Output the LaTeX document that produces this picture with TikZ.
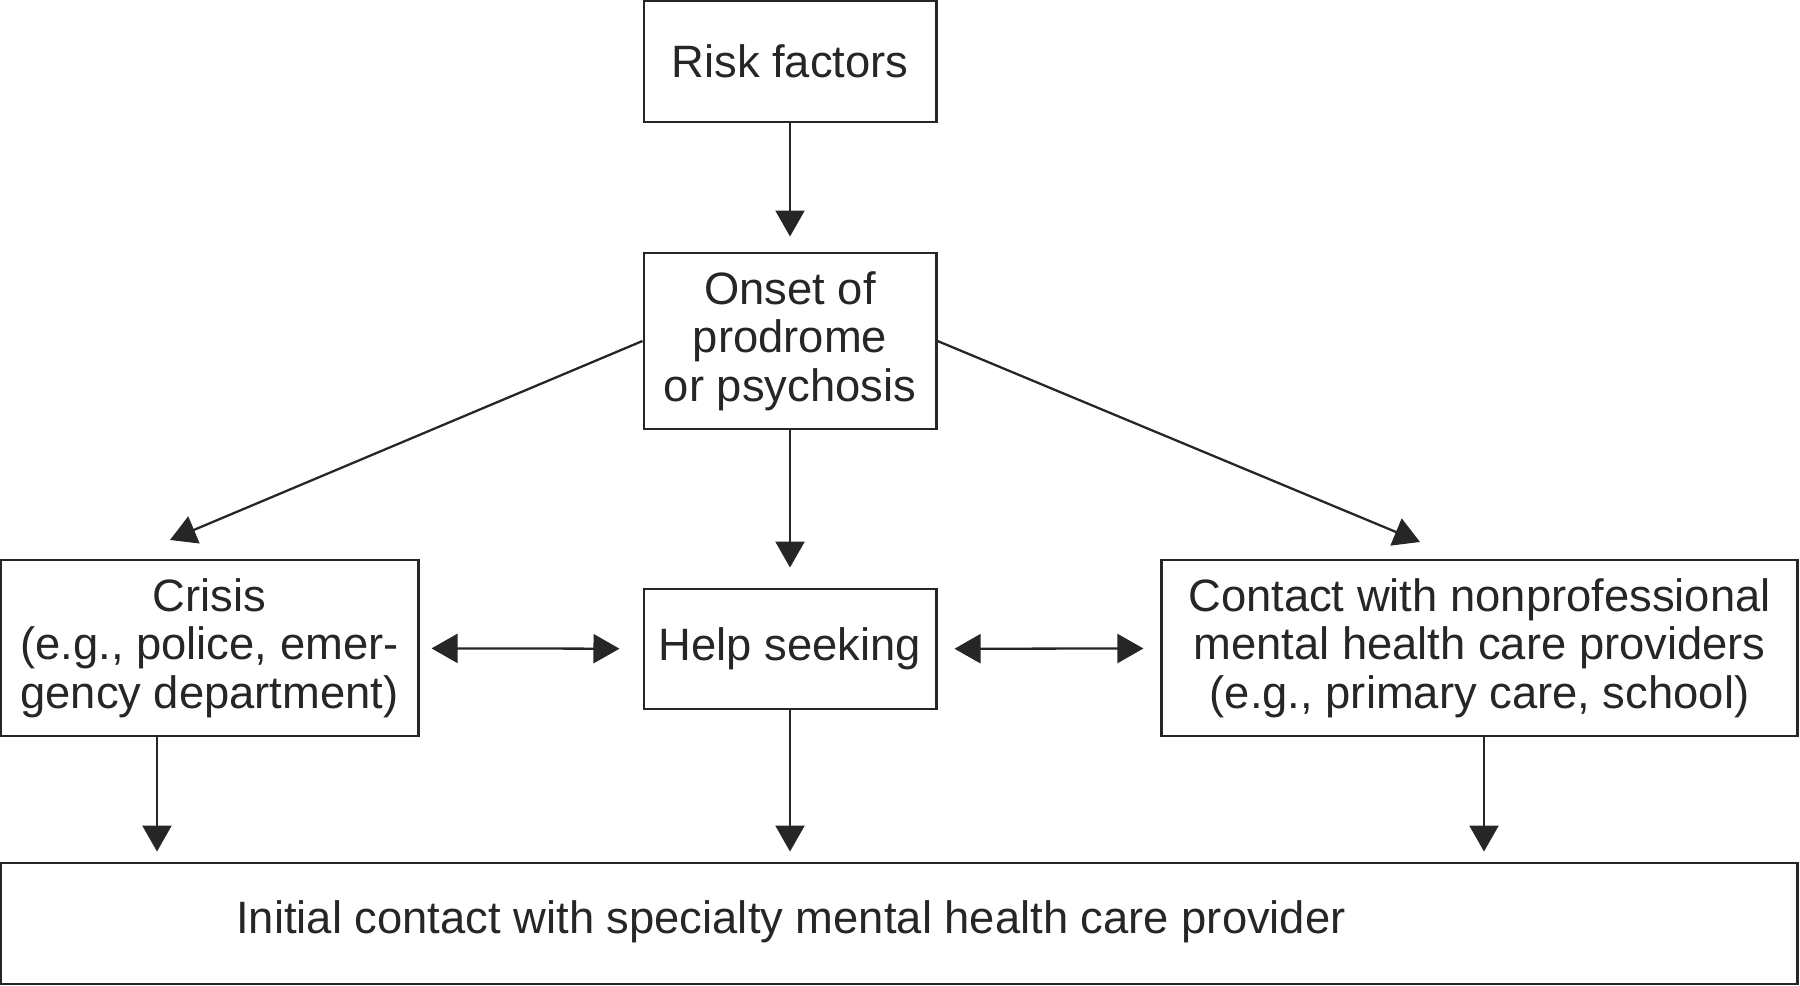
\documentclass[tikz,border=0pt]{standalone}
\usepackage{fontspec}
\setmainfont{Liberation Sans}
\usepackage{xcolor}
\usetikzlibrary{arrows.meta}
\usetikzlibrary{positioning}
\definecolor{inkgray}{HTML}{262626}
\tikzset{
  MyBox/.style={
    rectangle, draw=inkgray, line width=0.8pt,
    text=inkgray, align=center, inner sep=0pt,
    font=\fontsize{12.9}{13.8}\selectfont,
  },
  MyArrow/.style={
    -{Triangle[width=2.9mm,length=2.6mm]}, draw=inkgray, fill=inkgray, line width=0.65pt,
  },
  MyBiArrow/.style={
    {Triangle[width=2.9mm,length=2.6mm]}-{Triangle[width=2.9mm,length=2.6mm]}, draw=inkgray, line width=0.65pt,
  },
}
\begin{document}
\begin{tikzpicture}[x=0.01cm, y=-0.01cm]
\useasboundingbox (0,0) rectangle (1800,986);
\node[MyBox, minimum width=2.92cm, minimum height=1.21cm] (RISK) at (790,61.5) {Risk factors};
\node[MyBox, minimum width=2.92cm, minimum height=1.76cm] (ONSET) at (790,341) {Onset of\\prodrome\\or psychosis};
\node[MyBox, minimum width=4.17cm, minimum height=1.76cm] (CRISIS) at (209.5,648) {Crisis\\(e.g., police, emer-\\gency department)};
\node[MyBox, minimum width=2.92cm, minimum height=1.20cm] (HELP) at (790,649) {Help seeking};
\node[MyBox, minimum width=6.35cm, minimum height=1.76cm] (CONTACT) at (1479.5,648) {Contact with nonprofessional\\mental health care providers\\(e.g., primary care, school)};
\node[MyBox, minimum width=17.96cm, minimum height=1.21cm] (INIT) at (899,923.5) {};
\node[MyBox, draw=none] (INITTXT) at (791,922) {Initial contact with specialty mental health care provider};
\coordinate (CRISISIN) at (170,540);
\coordinate (CONTACTIN) at (1420,542);
% arrows
\draw[MyArrow, shorten >=0.15cm] (RISK) to (ONSET);
\draw[MyArrow, shorten >=0.2cm] (ONSET) to (HELP);
\draw[MyArrow] (ONSET.west) to (CRISISIN);
\draw[MyArrow] (ONSET.east) to (CONTACTIN);
\draw[MyBiArrow, shorten <=0.12cm, shorten >=0.23cm] (CRISIS) to (HELP);
\draw[MyBiArrow, shorten <=0.17cm, shorten >=0.17cm] (HELP) to (CONTACT);
\draw[MyArrow, shorten >=0.1cm] ([xshift=-0.525cm]CRISIS.south) to ([xshift=-0.525cm]CRISIS.south |- INIT.north);
\draw[MyArrow, shorten >=0.1cm] (HELP) to (HELP |- INIT.north);
\draw[MyArrow, shorten >=0.1cm] ([xshift=0.045cm]CONTACT.south) to ([xshift=0.045cm]CONTACT.south |- INIT.north);
\end{tikzpicture}
\end{document}
